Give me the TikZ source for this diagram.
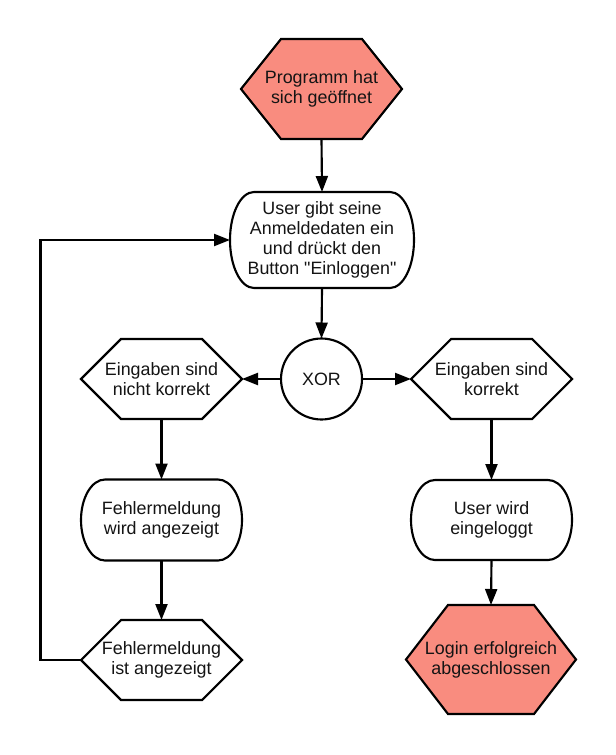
\documentclass[tikz,border=0pt]{standalone}
\usepackage{fontspec}
\setmainfont{Liberation Sans}[Ligatures=TeXOff]
\usetikzlibrary{arrows.meta}
\pgfdeclarelayer{canvas}
\pgfdeclarelayer{background}
\pgfsetlayers{canvas,background,main}
\definecolor{salmon}{RGB}{249,140,127}
\definecolor{txt}{RGB}{20,20,20}
\newcommand\hexbg[3]{%
  \begin{pgfonlayer}{background}
  \draw[shapeline, fill=#2] (#1.west) -- ([xshift=#3]#1.north west) -- ([xshift=-#3]#1.north east) -- (#1.east) -- ([xshift=-#3]#1.south east) -- ([xshift=#3]#1.south west) -- cycle;
  \end{pgfonlayer}}
\newcommand\roundbg[2]{%
  \begin{pgfonlayer}{background}
  \draw[shapeline, fill=white] ([xshift=18pt]#1.north west) -- ([xshift=-18pt]#1.north east)
    arc[start angle=90,end angle=-90,x radius=18pt,y radius=#2] -- ([xshift=18pt]#1.south west)
    arc[start angle=270,end angle=90,x radius=18pt,y radius=#2] -- cycle;
  \end{pgfonlayer}}
\begin{document}
\begin{tikzpicture}[x=0.75pt,y=-0.75pt,
  shapeline/.style={line width=1.6pt, line join=miter, draw=black},
  box/.style={inner sep=0pt, outer sep=0pt, align=center, text=txt,
    font=\fontsize{13.4pt}{15pt}\selectfont},
  conn/.style={line width=1.6pt, -{Triangle[length=12pt,width=9pt]}}]
\begin{pgfonlayer}{canvas}
\fill[white] (0,0) rectangle (616,755);
\end{pgfonlayer}
\useasboundingbox (0,0) rectangle (616,755);

\node[box, minimum width=120.75pt, minimum height=75pt] (start) at (321.5,89) {Programm hat\\sich geöffnet};
\hexbg{start}{salmon}{30pt}

\node[box, minimum width=138pt, minimum height=72pt] (user) at (322,240) {User gibt seine\\Anmeldedaten ein\\und drückt den\\Button "Einloggen"};
\roundbg{user}{36pt}

\node[box, circle, shapeline, fill=white, minimum size=60.75pt] (xor) at (321.5,379) {XOR};

\node[box, minimum width=120.75pt, minimum height=60pt] (nk) at (161.5,379) {Eingaben sind\\nicht korrekt};
\hexbg{nk}{white}{30pt}

\node[box, minimum width=120.75pt, minimum height=60pt] (ok) at (491.5,379) {Eingaben sind\\korrekt};
\hexbg{ok}{white}{30pt}

\node[box, minimum width=120.75pt, minimum height=60.75pt] (fw) at (161.5,520) {Fehlermeldung\\wird angezeigt};
\roundbg{fw}{30.375pt}

\node[box, minimum width=120.75pt, minimum height=60pt] (uw) at (491.5,520) {User wird\\eingeloggt};
\roundbg{uw}{30pt}

\node[box, minimum width=120.75pt, minimum height=60pt] (fi) at (161.5,660) {Fehlermeldung\\ist angezeigt};
\hexbg{fi}{white}{30pt}

\node[box, minimum width=127.5pt, minimum height=81.75pt] (login) at (491,659.5) {Login erfolgreich\\abgeschlossen};
\hexbg{login}{salmon}{31.5pt}

\coordinate (lb) at (40.5,660);
\coordinate (lt) at (40.5,240);

\draw[conn] (start.south) -- (user.north);
\draw[conn] (user.south) -- (xor.north);
\draw[conn] (xor.west) -- (nk.east);
\draw[conn] (xor.east) -- (ok.west);
\draw[conn] (nk.south) -- (fw.north);
\draw[conn] (fw.south) -- (fi.north);
\draw[conn] (ok.south) -- (uw.north);
\draw[conn] (uw.south) -- (login.north);
\draw[conn, line join=miter] (fi.west) -- (lb) -- (lt) -- (user.west);
\end{tikzpicture}
\end{document}
